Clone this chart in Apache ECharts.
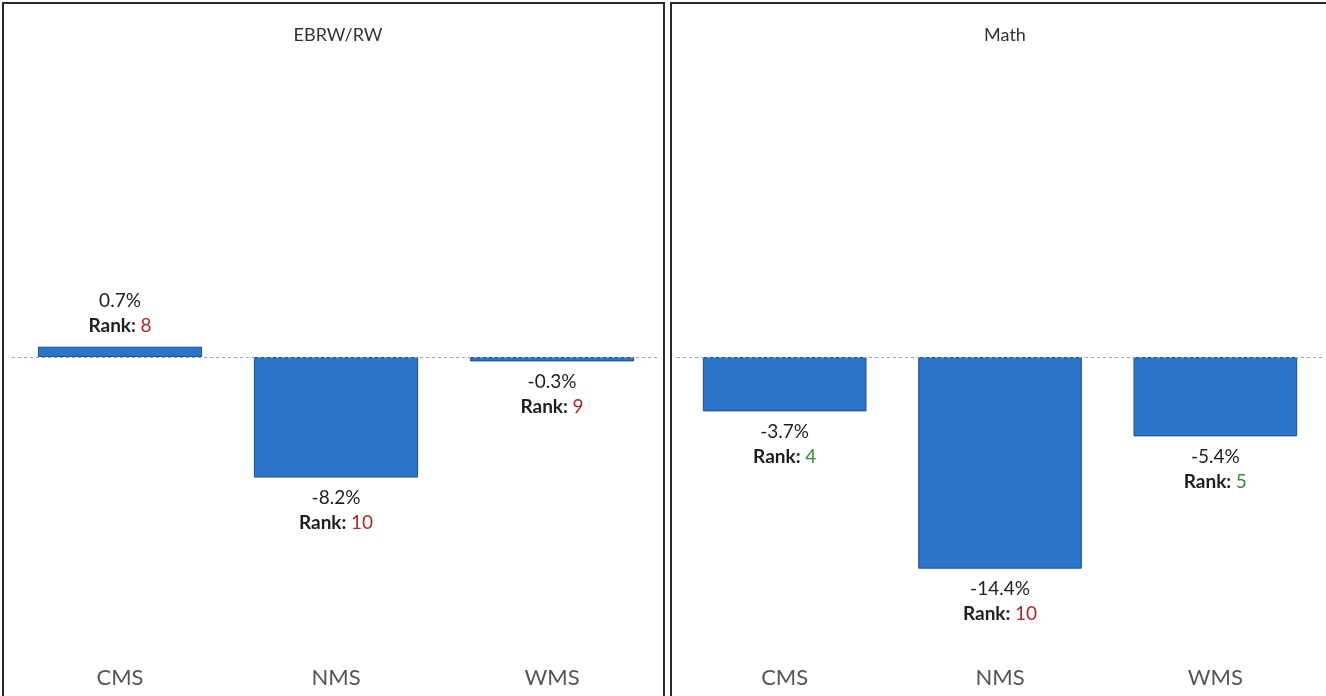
<!DOCTYPE html>
<html>
<head>
<meta charset="utf-8">
<script src="https://cdn.jsdelivr.net/npm/echarts@6/dist/echarts.min.js"></script>
<style>
  html, body { margin: 0; padding: 0; background: #fff; }
  #main { width: 1326px; height: 696px; }
</style>
</head>
<body>
<div id="main"></div>
<script>
// categories and values (percent change)
const categories = ['CMS', 'NMS', 'WMS'];
const ebrwValues = [0.7, -8.2, -0.3];
const ebrwRanks = [8, 10, 9];
const mathValues = [-3.7, -14.4, -5.4];
const mathRanks = [4, 10, 5];
const panelTitles = ['EBRW/RW', 'Math'];

const barColor = '#2b74c7';
const barBorder = '#1d4f91';
const font = 'Lato, "Open Sans", sans-serif';

function buildData(values, ranks) {
    let out = [];
    for (let i = 0; i < values.length; i++) {
        let good = ranks[i] <= 5;
        out.push({
            value: values[i],
            label: {
                position: values[i] >= 0 ? 'top' : 'bottom',
                formatter: '{v|' + values[i].toFixed(1) + '%}\n{r|Rank: }{' + (good ? 'g' : 'b') + '|' + ranks[i] + '}'
            }
        });
    }
    return out;
}

const labelStyle = {
    show: true,
    distance: 8,
    align: 'center',
    rich: {
        v: { fontSize: 19, color: '#1e1e1e', fontFamily: font, lineHeight: 25 },
        r: { fontSize: 19, color: '#1e1e1e', fontWeight: 'bold', fontFamily: font, lineHeight: 25 },
        g: { fontSize: 19, color: '#3d8a3d', fontFamily: font, lineHeight: 25 },
        b: { fontSize: 19, color: '#b0262b', fontFamily: font, lineHeight: 25 }
    }
};

function xAxisFor(idx) {
    return {
        type: 'category',
        gridIndex: idx,
        data: categories,
        position: 'bottom',
        axisLine: { show: false },
        axisTick: { show: false },
        axisLabel: { fontSize: 22, color: '#555', margin: 16, fontFamily: font }
    };
}

function yAxisFor(idx) {
    return {
        type: 'value',
        gridIndex: idx,
        min: -20,
        max: 20,
        show: false
    };
}

function seriesFor(idx, values, ranks) {
    return {
        type: 'bar',
        xAxisIndex: idx,
        yAxisIndex: idx,
        barWidth: '76%',
        data: buildData(values, ranks),
        itemStyle: { color: barColor, borderColor: barBorder, borderWidth: 1 },
        label: labelStyle,
        markLine: {
            silent: true,
            symbol: 'none',
            label: { show: false },
            lineStyle: { color: '#7fa8d6', type: [3, 3], width: 1 },
            data: [{ yAxis: 0 }]
        }
    };
}

let chart = echarts.init(document.getElementById('main'));
chart.setOption({
    animation: false,
    title: [
        { text: panelTitles[0], left: 333, top: 21, textAlign: 'center',
          textStyle: { fontSize: 18, fontWeight: 'normal', color: '#333', fontFamily: font } },
        { text: panelTitles[1], left: 1000, top: 21, textAlign: 'center',
          textStyle: { fontSize: 18, fontWeight: 'normal', color: '#333', fontFamily: font } }
    ],
    grid: [
        { left: 12, width: 648, top: 63, height: 588 },
        { left: 677, width: 646, top: 63, height: 588 }
    ],
    xAxis: [xAxisFor(0), xAxisFor(1)],
    yAxis: [yAxisFor(0), yAxisFor(1)],
    series: [
        seriesFor(0, ebrwValues, ebrwRanks),
        seriesFor(1, mathValues, mathRanks)
    ],
    graphic: [
        { type: 'rect', shape: { x: 3, y: 3, width: 661, height: 700 }, style: { fill: 'none', stroke: '#2a2a2a', lineWidth: 2 } },
        { type: 'rect', shape: { x: 671, y: 3, width: 660, height: 700 }, style: { fill: 'none', stroke: '#2a2a2a', lineWidth: 2 } }
    ]
});
</script>
</body>
</html>
